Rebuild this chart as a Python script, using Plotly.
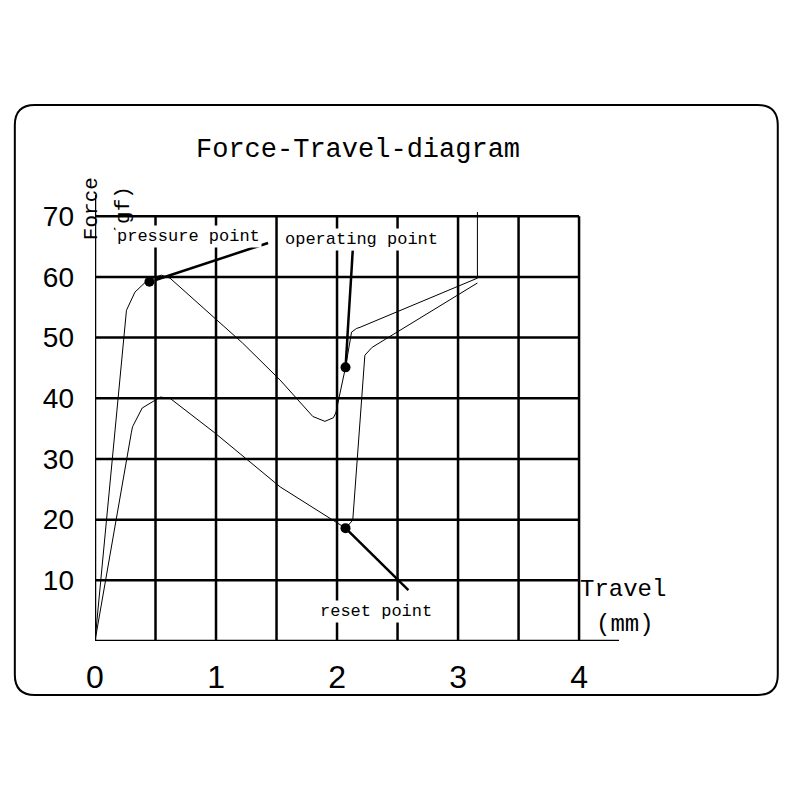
import plotly.graph_objects as go

press_x = [0, 0.26, 0.33, 0.42, 0.50, 0.55, 0.62, 1.22, 1.53, 1.80, 1.90, 1.97, 1.99, 2.07, 2.12, 2.16, 2.19, 3.16, 3.16]
press_y = [0, 54.5, 57.5, 59.2, 60.0, 60.3, 59.8, 49.1, 43.0, 37.0, 36.2, 36.8, 37.6, 45.1, 50.9, 51.5, 51.7, 59.8, 70.7]
ret_x = [3.16, 2.29, 2.23, 2.13, 2.07, 1.53, 0.99, 0.62, 0.54, 0.39, 0.31, 0.30, 0]
ret_y = [59.0, 48.4, 47.1, 19.9, 18.6, 25.4, 34.3, 40.0, 40.2, 38.4, 35.3, 34.3, 0]
pt_x = [0.45, 2.07, 2.07]
pt_y = [59.2, 45.1, 18.6]
x_ticks = [0, 1, 2, 3, 4]
y_ticks = [10, 20, 30, 40, 50, 60, 70]

fig = go.Figure()
fig.add_trace(go.Scatter(x=press_x, y=press_y, mode="lines", line=dict(color="black", width=1)))
fig.add_trace(go.Scatter(x=ret_x, y=ret_y, mode="lines", line=dict(color="black", width=1)))
fig.add_trace(go.Scatter(x=pt_x, y=pt_y, mode="markers", marker=dict(color="black", size=10)))

shapes = []
for i in range(1, 9):
    v = i * 0.5
    shapes.append(dict(type="line", x0=v, x1=v, y0=0, y1=70, line=dict(color="black", width=2.5)))
for v in y_ticks:
    shapes.append(dict(type="line", x0=0, x1=4, y0=v, y1=v, line=dict(color="black", width=2.5)))
shapes.append(dict(type="line", x0=0, x1=4.33, y0=0, y1=0, line=dict(color="black", width=2.5)))
shapes.append(dict(type="line", x0=0, x1=0, y0=0, y1=73.5, line=dict(color="black", width=2.5)))
shapes.append(dict(type="line", x0=0.5, y0=59.5, x1=1.43, y1=65.6, line=dict(color="black", width=2.5)))
shapes.append(dict(type="line", x0=2.07, y0=45, x1=2.13, y1=64.4, line=dict(color="black", width=2.5)))
shapes.append(dict(type="line", x0=2.07, y0=18.6, x1=2.59, y1=8.4, line=dict(color="black", width=2.5)))
x0, x1, y0, y1 = -0.153, 1.303, -0.120, 1.194
rx, ry = 0.038, 0.045
path = (f"M {x0+rx},{y0} L {x1-rx},{y0} Q {x1},{y0} {x1},{y0+ry} L {x1},{y1-ry} "
        f"Q {x1},{y1} {x1-rx},{y1} L {x0+rx},{y1} Q {x0},{y1} {x0},{y1-ry} "
        f"L {x0},{y0+ry} Q {x0},{y0} {x0+rx},{y0} Z")
shapes.append(dict(type="path", xref="paper", yref="paper", path=path, line=dict(color="black", width=2)))

serif = "Liberation Mono"
ann = [
    dict(text="Force-Travel-diagram", x=0.502, y=1.131, xref="paper", yref="paper", showarrow=False,
         font=dict(family=serif, size=27, color="black")),
    dict(text="Force", x=-0.032, y=1.038, xref="paper", yref="paper", showarrow=False, textangle=-90,
         font=dict(family=serif, size=21, color="black")),
    dict(text="(gf)", x=0.029, y=1.016, xref="paper", yref="paper", showarrow=False, textangle=-90,
         font=dict(family=serif, size=21, color="black")),
    dict(text="Travel", x=1.094, y=0.080, xref="paper", yref="paper", showarrow=False,
         font=dict(family=serif, size=24, color="black")),
    dict(text="(mm)", x=1.071, y=0.002, xref="paper", yref="paper", showarrow=False,
         font=dict(family=serif, size=24, color="black")),
    dict(text="pressure point", x=0.77, y=66.6, showarrow=False, bgcolor="white",
         font=dict(family=serif, size=17, color="black")),
    dict(text="operating point", x=2.20, y=66.2, showarrow=False, bgcolor="white",
         font=dict(family=serif, size=17, color="black")),
    dict(text="reset point", x=2.32, y=4.9, showarrow=False, bgcolor="white",
         font=dict(family=serif, size=17, color="black")),
]

fig.update_layout(
    width=800, height=800, paper_bgcolor="white", plot_bgcolor="white", showlegend=False,
    margin=dict(l=87, r=189, t=184, b=167),
    shapes=shapes, annotations=ann,
    xaxis=dict(range=[0, 4.33], tickvals=x_ticks, showgrid=False, zeroline=False, showline=False,
               ticks="", ticklabelstandoff=14, tickfont=dict(family="Liberation Sans", size=32, color="black")),
    yaxis=dict(range=[0, 74], tickvals=y_ticks, showgrid=False, zeroline=False, showline=False,
               ticks="", ticklabelstandoff=20, tickfont=dict(family="Liberation Sans", size=28, color="black")),
)
fig.write_html("out.html")
